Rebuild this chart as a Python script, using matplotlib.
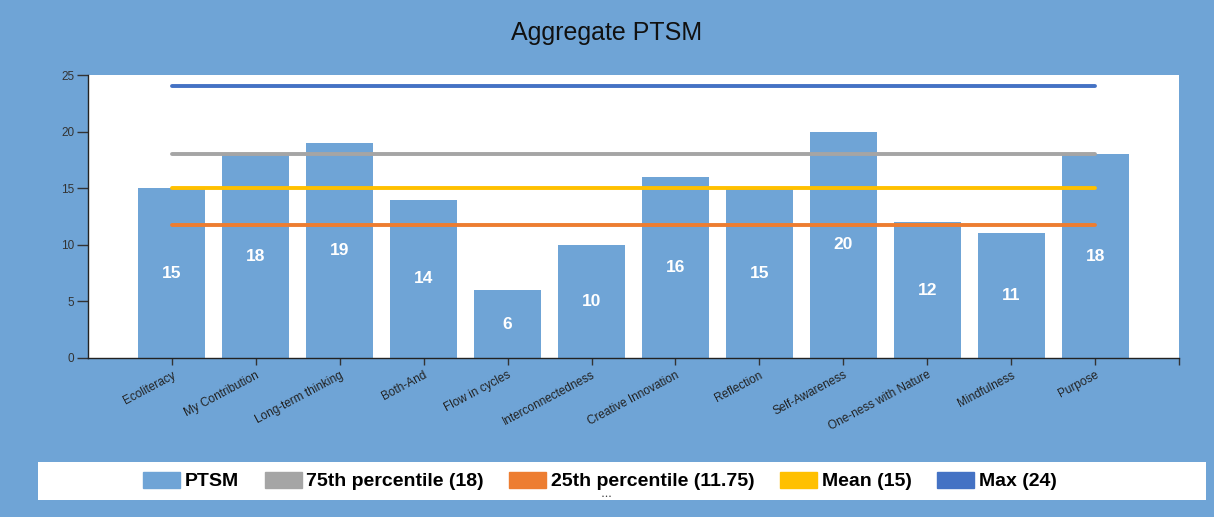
import matplotlib
matplotlib.use("Agg")
import matplotlib.pyplot as plt
from matplotlib.patches import Rectangle, Patch

plt.rcParams['font.family'] = ['Liberation Sans', 'DejaVu Sans']

categories = ["Ecoliteracy", "My Contribution", "Long-term thinking", "Both-And",
              "Flow in cycles", "Interconnectedness", "Creative Innovation", "Reflection",
              "Self-Awareness", "One-ness with Nature", "Mindfulness", "Purpose"]
ptsm = [15, 18, 19, 14, 6, 10, 16, 15, 20, 12, 11, 18]
p75 = 18
p25 = 11.75
mean = 15
vmax = 24
yticks = [0, 5, 10, 15, 20, 25]

BG = "#6FA4D6"
BAR = "#6FA4D6"
C75 = "#A5A5A5"
C25 = "#ED7D31"
CMEAN = "#FFC000"
CMAX = "#4472C4"

fig = plt.figure(figsize=(12.14, 5.17), dpi=100)
fig.patch.set_facecolor(BG)
ax = fig.add_axes([88/1214, 1-358/517, (1179-88)/1214, (358-75)/517])
ax.set_facecolor("white")

x = list(range(len(categories)))
ax.bar(x, ptsm, width=0.8, color=BAR, zorder=2)
for xi, v in zip(x, ptsm):
    ax.text(xi, v/2, str(v), ha="center", va="center", color="white",
            fontsize=12.5, fontweight="bold", zorder=5)

xs = [x[0], x[-1]]
for val, col in [(vmax, CMAX), (p75, C75), (mean, CMEAN), (p25, C25)]:
    ax.plot(xs, [val, val], color=col, lw=2.8, solid_capstyle="round", zorder=4)

ax.set_xlim(-1, 12)
ax.set_ylim(0, 25)
ax.set_yticks(yticks)
ax.set_xticks(x)
ax.set_xticklabels(categories, rotation=28, ha="right", rotation_mode="anchor",
                   fontsize=8.5, color="#222222")
ax.set_xticks([12], minor=True)
ax.tick_params(axis="x", which="both", length=5, width=1, color="#333333", pad=3)
ax.tick_params(axis="y", length=8, width=1, color="#333333", labelsize=8.5,
               labelcolor="#333333", pad=2)
for s in ["top", "right"]:
    ax.spines[s].set_visible(False)
for s in ["left", "bottom"]:
    ax.spines[s].set_color("#222222")
    ax.spines[s].set_linewidth(1)

fig.text(607/1214, 1-33/517, "Aggregate PTSM", ha="center", va="center",
         fontsize=18, color="#111111")

# legend box
fig.patches.append(Rectangle((38/1214, 1-500/517), (1206-38)/1214, 38/517,
                             transform=fig.transFigure, facecolor="white",
                             edgecolor="none", zorder=0))
handles = [Patch(color=BAR, label="PTSM"),
           Patch(color=C75, label="75th percentile (18)"),
           Patch(color=C25, label="25th percentile (11.75)"),
           Patch(color=CMEAN, label="Mean (15)"),
           Patch(color=CMAX, label="Max (24)")]
leg = fig.legend(handles=handles, loc="center", bbox_to_anchor=(600/1214, 1-481/517),
                 ncol=5, frameon=False, prop={"weight": "bold", "size": 14},
                 handlelength=1.9, handleheight=0.9, columnspacing=1.3, handletextpad=0.25)
fig.text(607/1214, 1-496/517, "• • •", ha="center", va="center", fontsize=4, color="#333333")

fig.savefig("out.png", dpi=100, facecolor=BG)
